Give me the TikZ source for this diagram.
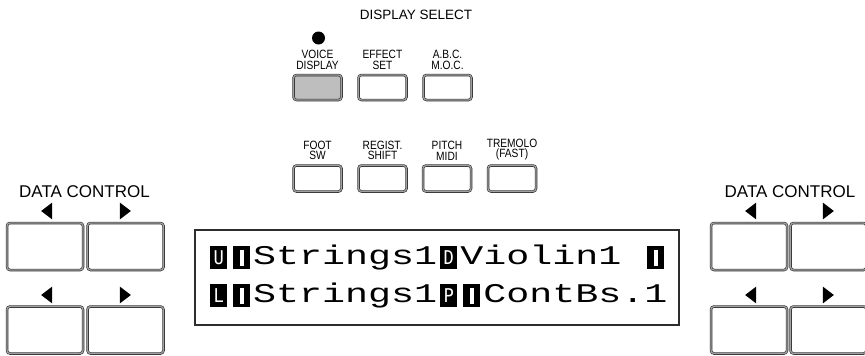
\documentclass[tikz,border=0pt]{standalone}
\usepackage{fontspec}
\setmainfont{Liberation Sans}
\newfontfamily\btnfont[FakeStretch=0.85]{Liberation Sans}
\newfontfamily\lcdfont[FakeStretch=1.42]{Liberation Mono}
\newfontfamily\lcdsmall[FakeStretch=0.9]{DejaVu Sans Mono}
\definecolor{padgray}{RGB}{190,190,190}
\definecolor{rimgray}{RGB}{160,160,160}
\definecolor{inkgray}{RGB}{45,45,45}
\usetikzlibrary{positioning,shapes.geometric}
% inverted LCD cells
\newcommand{\lcdinv}[1]{\makebox[23pt]{\rlap{\rule[-5pt]{17pt}{23pt}}\makebox[17pt]{\color{white}\fontsize{19}{19}\lcdsmall #1}}}
\newcommand{\lcdbar}{\makebox[23pt]{\rlap{\rule[-5pt]{17pt}{23pt}}\makebox[17pt]{\color{white}\rule[-2pt]{4pt}{16pt}}}}
\tikzset{
  pad/.style={draw=inkgray,line width=0.6pt,double=rimgray,double distance=1.3pt,
    rounded corners=3pt,fill=white,minimum width=48pt,minimum height=25pt,inner sep=0pt},
  bigpad/.style={pad,minimum width=76pt,minimum height=47pt},
  padlabel/.style={font=\btnfont\fontsize{12}{10.5}\selectfont,align=center,inner sep=0pt},
  headlabel/.style={font=\fontsize{17}{17}\selectfont,inner sep=0pt},
  leftarrow/.style={isosceles triangle,isosceles triangle apex angle=75,fill=black,
    inner sep=0pt,minimum height=11pt,shape border rotate=180},
  rightarrow/.style={leftarrow,shape border rotate=0},
  lcdline/.style={anchor=base west,inner sep=0pt,font=\lcdfont\fontsize{27}{27}\selectfont}
}
\begin{document}
\begin{tikzpicture}[x=1pt,y=-1pt]
  \useasboundingbox[fill=white] (0,0) rectangle (865,356);
  \clip (0,0) rectangle (865,356);
  % Display select
  \node[font=\fontsize{13.5}{13.5}\selectfont,inner sep=0pt] (dsel) at (416,15) {DISPLAY SELECT};
  \node[circle,fill=black,minimum size=13pt,inner sep=0pt] (lamp) at (318.5,38) {};
  \node[pad,fill=padgray] (voice) at (317.5,87.5) {};
  \node[pad] (effect) at (382.5,87.5) {};
  \node[pad] (abc) at (447.5,87.5) {};
  \node[padlabel,above=5pt of voice] (voicet) {VOICE\\DISPLAY};
  \node[padlabel,above=5pt of effect] (effectt) {EFFECT\\SET};
  \node[padlabel,above=5pt of abc] (abct) {A.B.C.\\M.O.C.};
  % second row
  \node[pad,minimum height=26pt] (foot) at (317.5,178.5) {};
  \node[pad,minimum height=26pt] (regist) at (382.5,178.5) {};
  \node[pad,minimum height=26pt] (pitch) at (447,178.5) {};
  \node[pad,minimum height=26pt] (tremolo) at (512,178.5) {};
  \node[padlabel,above=5pt of foot] (foott) {FOOT\\SW};
  \node[padlabel,above=5pt of regist] (registt) {REGIST.\\SHIFT};
  \node[padlabel,above=5pt of pitch] (pitcht) {PITCH\\MIDI};
  \node[padlabel,above=5pt of tremolo] (tremolot) {TREMOLO\\(FAST)};
  % Left data control
  \node[headlabel] (dcl) at (84.5,191.5) {DATA CONTROL};
  \node[leftarrow] (dclua) at (48,211) {};
  \node[rightarrow] (dclub) at (124,211) {};
  \node[bigpad] (dclu1) at (45,246.5) {};
  \node[bigpad] (dclu2) at (125.5,246.5) {};
  \node[leftarrow] (dclda) at (48,295) {};
  \node[rightarrow] (dcldb) at (124,295) {};
  \node[bigpad] (dcld1) at (45,330) {};
  \node[bigpad] (dcld2) at (125.5,330) {};
  % Right data control
  \node[headlabel] (dcr) at (790,191.5) {DATA CONTROL};
  \node[leftarrow] (dcrua) at (752,211) {};
  \node[rightarrow] (dcrub) at (827,211) {};
  \node[bigpad] (dcru1) at (749,246.5) {};
  \node[bigpad] (dcru2) at (828.5,246.5) {};
  \node[leftarrow] (dcrda) at (752,295) {};
  \node[rightarrow] (dcrdb) at (827,295) {};
  \node[bigpad] (dcrd1) at (749,330) {};
  \node[bigpad] (dcrd2) at (828.5,330) {};
  % LCD
  \node[draw=inkgray,line width=1.2pt,minimum width=484pt,minimum height=95pt,inner sep=0pt] (lcd) at (437,277.5) {};
  \node[lcdline] (upper) at (207,264) {\lcdinv{U}\lcdbar{}Strings1\lcdinv{D}Violin1 \lcdbar};
  \node[lcdline] (lower) at (207,302) {\lcdinv{L}\lcdbar{}Strings1\lcdinv{P}\lcdbar{}ContBs.1};
\end{tikzpicture}
\end{document}
